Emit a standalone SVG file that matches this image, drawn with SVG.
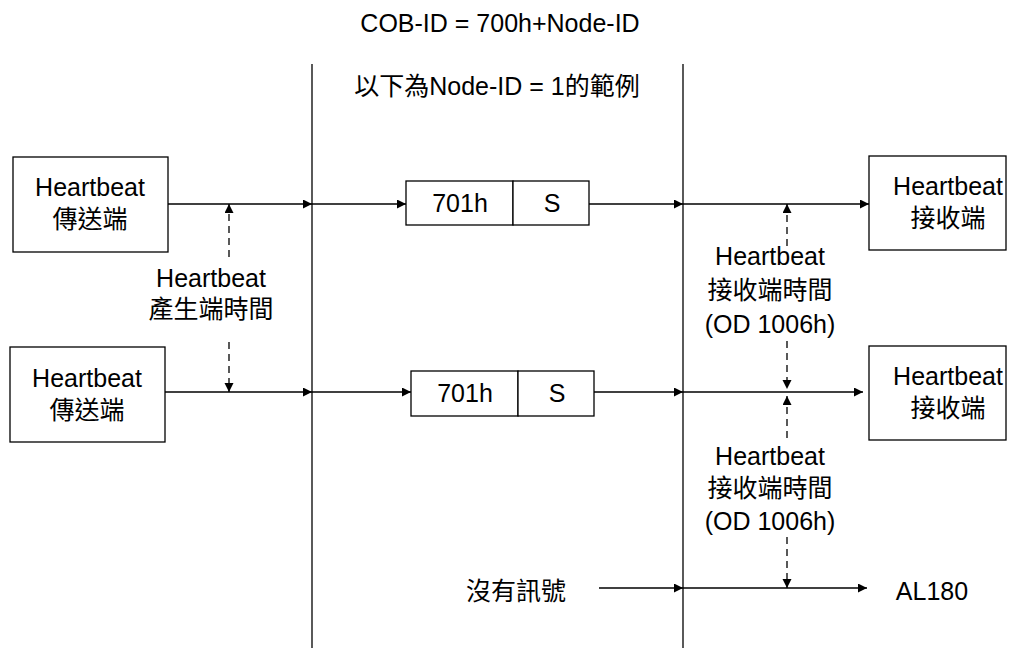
<svg xmlns="http://www.w3.org/2000/svg" width="1016" height="648" viewBox="0 0 1016 648">
<style>
text{font-family:"Liberation Sans","Noto Sans CJK TC",Arial,sans-serif;font-size:25px;fill:#000;text-anchor:middle}
.box{fill:#fff;stroke:#000;stroke-width:1.3}
.ln{stroke:#000;stroke-width:1.3;fill:none;marker-end:url(#ah)}
.ds{stroke:#000;stroke-width:1.3;fill:none;stroke-dasharray:7 5;marker-end:url(#ah)}
.vl{stroke:#000;stroke-width:1.3}
</style>
<defs>
<marker id="ah" markerUnits="userSpaceOnUse" markerWidth="10" markerHeight="10" refX="9" refY="4.5" orient="auto">
<path d="M0,0 L9,4.5 L0,9 z" fill="#000"/>
</marker>
</defs>
<text x="500" y="32">COB-ID = 700h+Node-ID</text>
<text x="497" y="95">以下為Node-ID = 1的範例</text>
<line class="vl" x1="312" y1="64" x2="312" y2="648"/>
<line class="vl" x1="683" y1="64" x2="683" y2="648"/>
<g id="connectors">
<path class="ln" d="M168,204 H312"/>
<path class="ln" d="M312,204 H406"/>
<path class="ln" d="M589,204 H683"/>
<path class="ln" d="M683,204 H869"/>
<path class="ln" d="M165,392 H312"/>
<path class="ln" d="M312,392 H411"/>
<path class="ln" d="M594,392 H683"/>
<path class="ln" d="M683,392 H863"/>
<path class="ln" d="M599,588 H683"/>
<path class="ln" d="M683,588 H867"/>
<path class="ds" d="M229,257 V204"/>
<path class="ds" d="M229,342 V392"/>
<path class="ds" d="M787,246 V204"/>
<path class="ds" d="M787,341 V389"/>
<path class="ds" d="M787,438 V396"/>
<path class="ds" d="M787,537 V588"/>
</g>
<g id="tx1"><rect class="box" x="13" y="157" width="155" height="95"/><text x="90" y="196">Heartbeat</text><text x="90" y="228">傳送端</text></g>
<g id="tx2"><rect class="box" x="10" y="347" width="155" height="95"/><text x="87" y="387">Heartbeat</text><text x="87" y="419">傳送端</text></g>
<g id="msg1"><rect class="box" x="406" y="181" width="107" height="44"/><rect class="box" x="513" y="181" width="76" height="44"/><text x="460" y="212">701h</text><text x="552" y="212">S</text></g>
<g id="msg2"><rect class="box" x="411" y="371" width="107" height="45"/><rect class="box" x="518" y="371" width="76" height="45"/><text x="465" y="402">701h</text><text x="557" y="402">S</text></g>
<g id="rx1"><rect class="box" x="869" y="156" width="137" height="94"/><text x="948" y="195">Heartbeat</text><text x="948" y="227">接收端</text></g>
<g id="rx2"><rect class="box" x="869" y="346" width="137" height="94"/><text x="948" y="385">Heartbeat</text><text x="948" y="417">接收端</text></g>
<g id="lblProd"><text x="211" y="287">Heartbeat</text><text x="211" y="318">產生端時間</text></g>
<g id="lblCons1"><text x="770" y="265">Heartbeat</text><text x="770" y="299">接收端時間</text><text x="770" y="333">(OD 1006h)</text></g>
<g id="lblCons2"><text x="770" y="465">Heartbeat</text><text x="770" y="497">接收端時間</text><text x="770" y="530">(OD 1006h)</text></g>
<g id="noSig"><text x="516" y="600">沒有訊號</text></g>
<g id="al"><text x="932" y="600">AL180</text></g>
</svg>
